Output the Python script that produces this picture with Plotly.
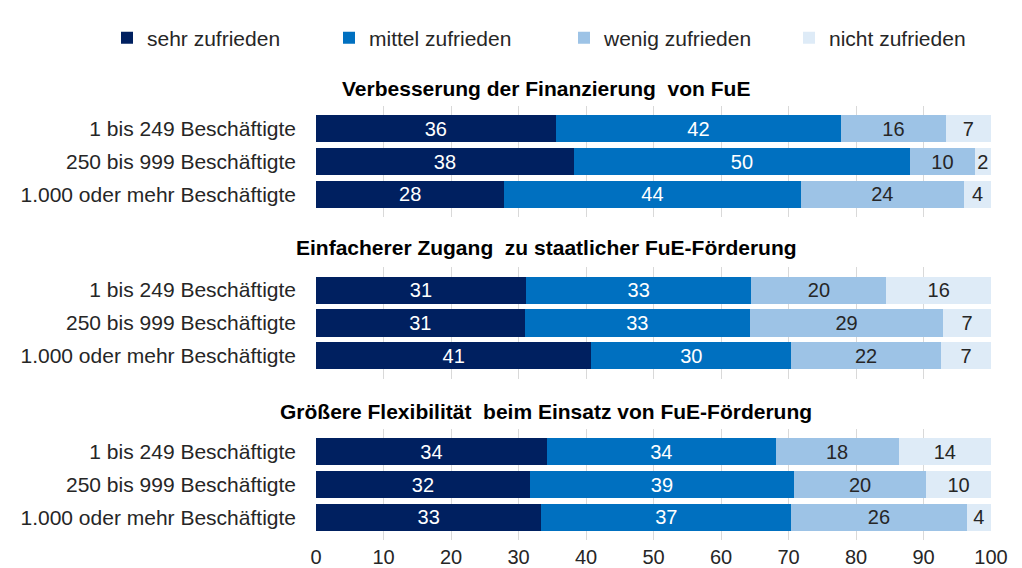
import plotly.graph_objects as go

# ---- data -------------------------------------------------------------
titles = [
    "Verbesserung der Finanzierung\u00a0 von FuE",
    "Einfacherer Zugang\u00a0 zu staatlicher FuE-Förderung",
    "Größere Flexibilität\u00a0 beim Einsatz von FuE-Förderung",
]
rows = ["1 bis 249 Beschäftigte", "250 bis 999 Beschäftigte", "1.000 oder mehr Beschäftigte"]
series_names = ["sehr zufrieden", "mittel zufrieden", "wenig zufrieden", "nicht zufrieden"]

# values per panel (rows in order above)
sehr   = [[35.5, 38.2, 27.9], [31.1, 30.9, 40.8], [34.2, 31.7, 33.4]]
mittel = [[42.3, 49.8, 43.9], [33.4, 33.4, 29.6], [33.9, 39.1, 37.0]]
wenig  = [[15.5,  9.6, 24.2], [20.0, 28.6, 22.2], [18.2, 19.6, 26.0]]
nicht  = [[ 6.7,  2.4,  4.0], [15.5,  7.1,  7.4], [13.7,  9.6,  3.6]]
x_ticks = [0, 10, 20, 30, 40, 50, 60, 70, 80, 90, 100]

# ---- styling ----------------------------------------------------------
colors = ["#002060", "#0070C0", "#9DC3E6", "#DEEBF7"]
text_colors = ["#FFFFFF", "#FFFFFF", "#262626", "#262626"]
FONT = "Liberation Sans, Arial, sans-serif"
W, H = 1022, 568
OFF = 8  # page body margin offset
# pixel extents (top, bottom) of each panel, page coordinates
panels_px = [(106, 217), (267, 379), (429, 540)]
title_px = [88, 247, 411]
legend_marker_px = [128, 350, 585, 810]
PLOT_L, PLOT_R = 316 - OFF, 991 - OFF
PLOT_W = PLOT_R - PLOT_L

fig = go.Figure()
all_series = [sehr, mittel, wenig, nicht]
legend_ids = ["legend", "legend2", "legend3", "legend4"]
for p in range(3):
    xa = "x" if p == 0 else f"x{p+1}"
    ya = "y" if p == 0 else f"y{p+1}"
    for s, vals in enumerate(all_series):
        fig.add_trace(go.Bar(
            x=vals[p], y=rows, orientation="h",
            name=series_names[s], legend=legend_ids[s],
            showlegend=(p == 0),
            marker=dict(color=colors[s], line=dict(width=0)),
            texttemplate="%{x:.0f}", textposition="inside",
            insidetextanchor="middle", textangle=0,
            textfont=dict(color=text_colors[s], size=20, family=FONT),
            xaxis=xa, yaxis=ya, hoverinfo="skip",
        ))

layout = dict(
    width=W, height=H,
    barmode="stack", bargap=0.18,
    margin=dict(l=PLOT_L, r=W - PLOT_R, t=0, b=0, autoexpand=False),
    plot_bgcolor="white", paper_bgcolor="white",
    font=dict(family=FONT, size=20, color="#262626"),
    uniformtext=dict(minsize=20, mode="show"),
    showlegend=True,
)
for s, lid in enumerate(legend_ids):
    layout[lid] = dict(
        orientation="h", xref="container", yref="container",
        x=(legend_marker_px[s] - 21 - OFF) / W, xanchor="left",
        y=1 - (38 - OFF) / H, yanchor="middle",
        font=dict(size=21, family=FONT, color="#262626"),
        bgcolor="rgba(0,0,0,0)",
    )
for p in range(3):
    top, bot = panels_px[p]
    suffix = "" if p == 0 else str(p + 1)
    layout["xaxis" + suffix] = dict(
        domain=[0, 1], range=[0, 100], anchor="y" + suffix,
        tickvals=x_ticks, showgrid=True, gridcolor="#D9D9D9", gridwidth=1,
        zeroline=False, showline=False, fixedrange=True,
        showticklabels=(p == 2), ticks="", ticklabelstandoff=3,
        tickfont=dict(size=20, family=FONT, color="#262626"),
        automargin=False,
        matches=None if p == 0 else "x",
    )
    layout["yaxis" + suffix] = dict(
        domain=[1 - (bot - OFF) / H, 1 - (top - OFF) / H], anchor="x" + suffix,
        type="category", categoryorder="array", categoryarray=rows,
        range=[2.7, -0.7], showgrid=False, zeroline=False, showline=False,
        ticks="", ticklabelstandoff=19, automargin=False,
        tickfont=dict(size=21, family=FONT, color="#262626"),
    )
fig.update_layout(**layout)

for p in range(3):
    fig.add_annotation(
        text="<b>" + titles[p] + "</b>", xref="paper", yref="paper",
        x=(546 - OFF - PLOT_L) / PLOT_W, y=1 - (title_px[p] - OFF) / H,
        xanchor="center", yanchor="middle", showarrow=False,
        font=dict(size=21, family=FONT, color="#000000"),
    )

fig.write_html("out.html")
